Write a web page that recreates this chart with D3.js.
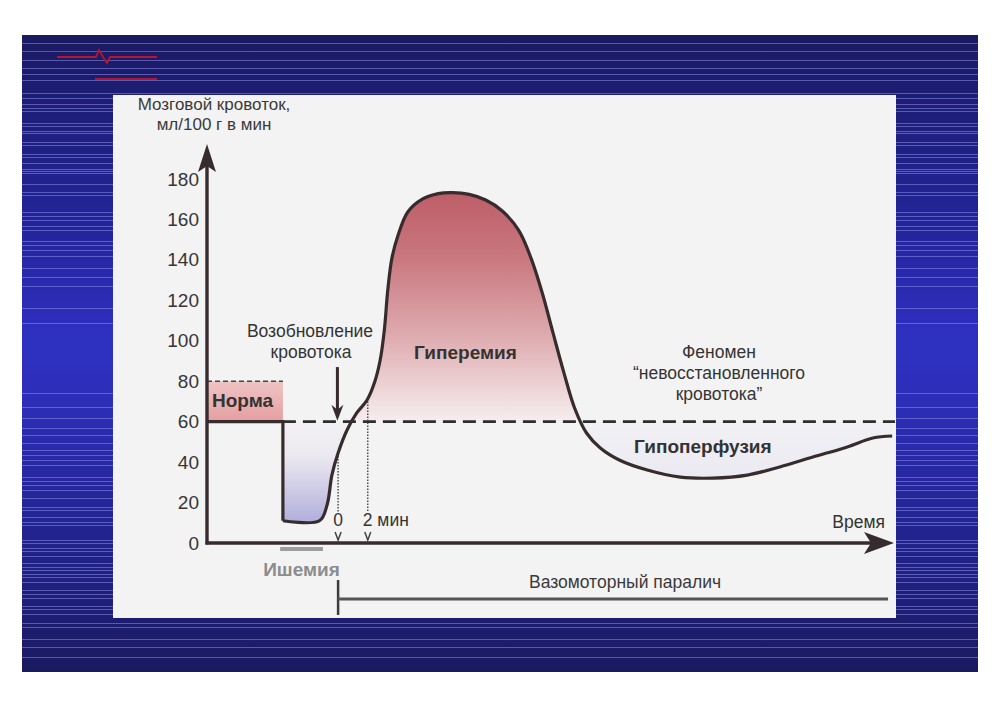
<!DOCTYPE html>
<html>
<head>
<meta charset="utf-8">
<script src="https://cdn.jsdelivr.net/npm/d3@7"></script>
<style>
  body { margin: 0; background: #fff; }
  svg { display: block; }
  text { font-family: "Liberation Sans", Arial, sans-serif; }
</style>
</head>
<body>
<div id="chart"></div>
<script>
// cerebral blood flow (ml/100 g/min) against time (arbitrary units, 0..100)
var stepTime = [0, 11, 11];
var stepFlow = [60, 60, 11];

var curveTime = [11, 16.3, 17.4, 18.1, 19.0, 20.3, 21.7, 23.2, 24.3, 25.1, 25.7, 26.2, 26.8, 27.7, 29.1, 31.2,
                 33.5, 35.6, 38.0, 40.4, 42.8, 45.2, 47.0, 48.6, 50.1, 51.7, 53.3, 55.0, 57.0, 59.9, 63.8,
                 68.6, 73.3, 78.3, 83.0, 87.8, 92.8, 96.5, 99.3];
var curveFlow = [11, 11, 18.8, 33.6, 44.5, 55.9, 64.3, 70.7, 79.6, 90.5, 105.3, 125.1, 140.9, 152.3, 163.7, 170.0,
                 172.8, 173.3, 172.4, 169.6, 164.2, 154.5, 140.5, 123.5, 104.5, 84.5, 66.5, 54.4, 47.0, 40.8, 36.1,
                 32.6, 32.1, 33.6, 37.6, 42.5, 47.5, 51.9, 52.9];

var yTicks = [0, 20, 40, 60, 80, 100, 120, 140, 160, 180];
var normRange = [60, 80];
var normEnd = 11;

var markTime = [19.0, 23.3];
var markTop = [43, 70];
var markLabels = ["0", "2 мин"];

var reperfusionTime = 18.9;
var ischemiaSpan = [10.6, 16.8];
var paralysisSpan = [19.0, 98.7];

var yTitle = ["Мозговой кровоток,", "мл/100 г в мин"];
var xTitle = "Время";
var phenomenonLines = ["Феномен", "\u201cневосстановленного", "кровотока\u201d"];

// decorative slide background lines (pixel rows)
var bgLines = [43, 51, 60, 68, 74, 80, 93, 98, 104, 108, 111, 123, 126, 131, 133, 142, 145, 154, 157, 163, 169, 171,
               173, 184, 192, 195, 212, 216, 220, 226, 230, 241, 245, 250, 256, 268, 277, 286, 308, 323, 393, 407,
               418, 428, 435, 443, 450, 455, 460, 465, 477, 481, 485, 490, 498, 507, 510, 517, 522, 525, 540, 543,
               548, 551, 556, 563, 567, 570, 574, 577, 582, 590, 594, 598, 606, 609, 614, 623, 627, 639, 647, 657];

var W = 999, H = 706;
var svg = d3.select("#chart").append("svg").attr("width", W).attr("height", H);
var defs = svg.append("defs");

// slide background
var bg = defs.append("linearGradient").attr("id", "slideGrad")
  .attr("x1", 0).attr("y1", 0).attr("x2", 0).attr("y2", 1);
bg.append("stop").attr("offset", "0%").attr("stop-color", "#1a1a62");
bg.append("stop").attr("offset", "30%").attr("stop-color", "#23249a");
bg.append("stop").attr("offset", "47%").attr("stop-color", "#2e30c0");
bg.append("stop").attr("offset", "56%").attr("stop-color", "#2d2fbb");
bg.append("stop").attr("offset", "78%").attr("stop-color", "#22238f");
bg.append("stop").attr("offset", "100%").attr("stop-color", "#1a1a60");

svg.append("rect").attr("x", 22).attr("y", 35).attr("width", 956).attr("height", 637)
  .attr("fill", "url(#slideGrad)");

svg.append("g").selectAll("line").data(bgLines).enter().append("line")
  .attr("x1", 22).attr("x2", 978)
  .attr("y1", function(d) { return d + 0.5; }).attr("y2", function(d) { return d + 0.5; })
  .attr("stroke", "rgba(150,150,240,0.5)").attr("stroke-width", 1);

// red heartbeat decoration
var deco = svg.append("g").attr("fill", "none").attr("stroke", "#b3172e").attr("stroke-width", 1.8);
deco.append("polyline").attr("points", "57,57 96,57 99,50 103,57 107,63 110,57 157,57");
deco.append("line").attr("x1", 95).attr("x2", 157).attr("y1", 79).attr("y2", 79);

// scanned figure panel
svg.append("rect").attr("x", 113).attr("y", 95).attr("width", 783).attr("height", 523).attr("fill", "#f3f3f3");

var x = d3.scaleLinear().domain([0, 100]).range([207, 897]);
var y = d3.scaleLinear().domain([0, 180]).range([543, 179]);

var stepData = stepTime.map(function(t, i) { return [t, stepFlow[i]]; });
var curveData = curveTime.map(function(t, i) { return [t, curveFlow[i]]; });
var smooth = d3.curveCatmullRom.alpha(0.5);

// gradients
function vGrad(id, y1, y2, stops) {
  var g = defs.append("linearGradient").attr("id", id).attr("gradientUnits", "userSpaceOnUse")
    .attr("x1", 0).attr("x2", 0).attr("y1", y1).attr("y2", y2);
  stops.forEach(function(s) { g.append("stop").attr("offset", s[0]).attr("stop-color", s[1]); });
}
vGrad("hyperGrad", y(175), y(60), [[0, "#bd5c66"], [0.3, "#c97880"], [0.65, "#dfaeb2"], [1, "#f6eeef"]]);
vGrad("normGrad", y(80), y(60), [[0, "#efc4c4"], [1, "#e49ea0"]]);
vGrad("ischGrad", y(60), y(11), [[0, "#f3f1f4"], [0.35, "#ece8f0"], [1, "#b2b0dc"]]);
vGrad("hypoGrad", y(60), y(32), [[0, "#f1f0f4"], [1, "#ebeaf2"]]);

defs.append("clipPath").attr("id", "aboveNorm").append("rect")
  .attr("x", x(0)).attr("y", 0).attr("width", x(100) - x(0)).attr("height", y(60));
defs.append("clipPath").attr("id", "dipClip").append("rect")
  .attr("x", x(normEnd)).attr("y", y(60)).attr("width", x(22) - x(normEnd)).attr("height", y(0) - y(60));
defs.append("clipPath").attr("id", "hypoClip").append("rect")
  .attr("x", x(53)).attr("y", y(60)).attr("width", x(100) - x(53)).attr("height", y(0) - y(60));

var area = d3.area().curve(smooth)
  .x(function(d) { return x(d[0]); })
  .y0(y(60))
  .y1(function(d) { return y(d[1]); });

// norm band
svg.append("rect").attr("x", x(0)).attr("y", y(normRange[1]))
  .attr("width", x(normEnd) - x(0)).attr("height", y(normRange[0]) - y(normRange[1]))
  .attr("fill", "url(#normGrad)");

svg.append("path").datum(curveData).attr("d", area).attr("fill", "url(#hyperGrad)").attr("clip-path", "url(#aboveNorm)");
svg.append("path").datum(curveData).attr("d", area).attr("fill", "url(#ischGrad)").attr("clip-path", "url(#dipClip)");
svg.append("path").datum(curveData).attr("d", area).attr("fill", "url(#hypoGrad)").attr("clip-path", "url(#hypoClip)");

var ink = "#372c2d";

// norm upper dashed line
svg.append("line").attr("x1", x(0)).attr("x2", x(normEnd)).attr("y1", y(normRange[1])).attr("y2", y(normRange[1]))
  .attr("stroke", "#444").attr("stroke-width", 1.4).attr("stroke-dasharray", "5,3");

// norm level dashed line
svg.append("line").attr("x1", x(normEnd)).attr("x2", 895).attr("y1", y(60)).attr("y2", y(60))
  .attr("stroke", "#2e2e2e").attr("stroke-width", 2.8).attr("stroke-dasharray", "13,7");

// dotted time markers
svg.append("g").selectAll("line").data(markTime).enter().append("line")
  .attr("x1", function(d) { return x(d); }).attr("x2", function(d) { return x(d); })
  .attr("y1", function(d, i) { return y(markTop[i]); }).attr("y2", y(0) - 31)
  .attr("stroke", "#444").attr("stroke-width", 1.4).attr("stroke-dasharray", "1.5,1.5");
svg.append("g").selectAll("path").data(markTime).enter().append("path")
  .attr("d", function(d) {
    var cx = x(d), b = y(0) - 3;
    return "M" + (cx - 3) + "," + (b - 8) + "L" + cx + "," + b + "L" + (cx + 3) + "," + (b - 8);
  })
  .attr("fill", "none").attr("stroke", "#444").attr("stroke-width", 1.5);
svg.append("g").selectAll("text").data(markLabels).enter().append("text")
  .attr("x", function(d, i) { return x(markTime[i]) + (i === 0 ? 0 : -5); })
  .attr("y", y(0) - 17)
  .attr("text-anchor", function(d, i) { return i === 0 ? "middle" : "start"; })
  .attr("font-size", 17.5).attr("fill", "#333")
  .text(function(d) { return d; });

// flow curve
svg.append("path").datum(stepData)
  .attr("d", d3.line().x(function(d) { return x(d[0]); }).y(function(d) { return y(d[1]); }))
  .attr("fill", "none").attr("stroke", ink).attr("stroke-width", 3.2);
svg.append("path").datum(curveData)
  .attr("d", d3.line().curve(smooth).x(function(d) { return x(d[0]); }).y(function(d) { return y(d[1]); }))
  .attr("fill", "none").attr("stroke", ink).attr("stroke-width", 3.2).attr("stroke-linejoin", "round");

// axes
var axisG = svg.append("g");
axisG.append("line").attr("x1", x(0)).attr("x2", x(0)).attr("y1", y(0) + 1.5).attr("y2", y.range()[1] - 14)
  .attr("stroke", ink).attr("stroke-width", 3.4);
axisG.append("path")
  .attr("d", "M" + x(0) + "," + (y.range()[1] - 35) + "L" + (x(0) + 9) + "," + (y.range()[1] - 7) +
             "L" + x(0) + "," + (y.range()[1] - 13) + "L" + (x(0) - 9) + "," + (y.range()[1] - 7) + "Z")
  .attr("fill", ink);
axisG.append("line").attr("x1", x(0) - 1.5).attr("x2", x(100) - 14).attr("y1", y(0)).attr("y2", y(0))
  .attr("stroke", ink).attr("stroke-width", 3.4);
axisG.append("path")
  .attr("d", "M" + (x(100) - 3) + "," + y(0) + "L" + (x(100) - 33) + "," + (y(0) - 11) +
             "L" + (x(100) - 26) + "," + y(0) + "L" + (x(100) - 33) + "," + (y(0) + 11) + "Z")
  .attr("fill", ink);

var yAxis = svg.append("g").attr("transform", "translate(" + x(0) + ",0)")
  .call(d3.axisLeft(y).tickValues(yTicks).tickSize(0).tickPadding(8));
yAxis.select(".domain").remove();
yAxis.selectAll("text").attr("font-size", 19).attr("fill", "#363636")
  .attr("font-family", "'Liberation Sans', Arial, sans-serif");

svg.append("g").selectAll("text").data(yTitle).enter().append("text")
  .attr("x", 214).attr("y", function(d, i) { return 110 + i * 20; })
  .attr("text-anchor", "middle").attr("font-size", 17).attr("fill", "#3a3a3a")
  .text(function(d) { return d; });

svg.append("text").attr("x", x(100) - 12).attr("y", y(0) - 15).attr("text-anchor", "end")
  .attr("font-size", 17.5).attr("fill", "#333").text(xTitle);

// reperfusion arrow
var rx = x(reperfusionTime);
svg.append("line").attr("x1", rx).attr("x2", rx).attr("y1", y(87)).attr("y2", y(64))
  .attr("stroke", ink).attr("stroke-width", 3);
svg.append("path")
  .attr("d", "M" + rx + "," + (y(60) - 1) + "L" + (rx + 6) + "," + (y(60) - 17) + "L" + rx + "," + (y(60) - 12) +
             "L" + (rx - 6) + "," + (y(60) - 17) + "Z")
  .attr("fill", ink);
svg.append("text").attr("x", 310).attr("y", 337).attr("text-anchor", "middle")
  .attr("font-size", 17.5).attr("fill", "#333").text("Возобновление");
svg.append("text").attr("x", 311).attr("y", 358).attr("text-anchor", "middle")
  .attr("font-size", 17.5).attr("fill", "#333").text("кровотока");

// region labels
svg.append("text").attr("x", x(0) + 5).attr("y", y(67.5)).attr("font-size", 19).attr("font-weight", "bold")
  .attr("fill", "#333").text("Норма");
svg.append("text").attr("x", 414).attr("y", 359).attr("font-size", 19).attr("font-weight", "bold")
  .attr("fill", "#333").text("Гиперемия");
svg.append("g").selectAll("text").data(phenomenonLines).enter().append("text")
  .attr("x", 719).attr("y", function(d, i) { return 358 + i * 21; })
  .attr("text-anchor", "middle").attr("font-size", 17.5).attr("fill", "#333")
  .text(function(d) { return d; });
svg.append("text").attr("x", 634).attr("y", 453).attr("font-size", 19).attr("font-weight", "bold")
  .attr("fill", "#333").text("Гипоперфузия");

// ischemia bar
svg.append("line").attr("x1", x(ischemiaSpan[0])).attr("x2", x(ischemiaSpan[1])).attr("y1", 549).attr("y2", 549)
  .attr("stroke", "#9c9c9c").attr("stroke-width", 4);
svg.append("text").attr("x", (x(ischemiaSpan[0]) + x(ischemiaSpan[1])) / 2).attr("y", 576)
  .attr("text-anchor", "middle").attr("font-size", 19).attr("font-weight", "bold")
  .attr("fill", "#8c8c8c").text("Ишемия");

// vasomotor paralysis bar
svg.append("line").attr("x1", x(paralysisSpan[0])).attr("x2", x(paralysisSpan[0])).attr("y1", 580).attr("y2", 615)
  .attr("stroke", "#3c3c3c").attr("stroke-width", 2.5);
svg.append("line").attr("x1", x(paralysisSpan[0])).attr("x2", x(paralysisSpan[1])).attr("y1", 599).attr("y2", 599)
  .attr("stroke", "#555").attr("stroke-width", 3);
svg.append("text").attr("x", 625).attr("y", 588).attr("text-anchor", "middle")
  .attr("font-size", 17.5).attr("fill", "#3a3a3a").text("Вазомоторный паралич");
</script>
</body>
</html>
